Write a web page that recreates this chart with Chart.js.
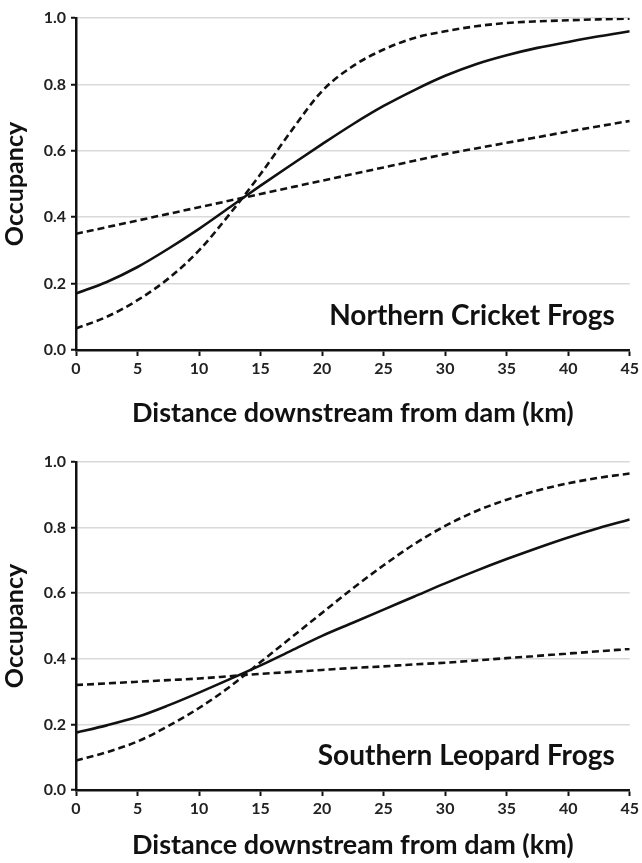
<!DOCTYPE html>
<html>
<head>
<meta charset="utf-8">
<script src="https://cdn.jsdelivr.net/npm/chart.js@4"></script>
<style>
    body { margin: 0; background: #fff; }
    .panel { width: 642px; position: relative; }
    canvas { display: block; }
</style>
</head>
<body>
<div class="panel"><canvas id="northernChart" width="642" height="431"></canvas></div>
<div class="panel"><canvas id="southernChart" width="642" height="432"></canvas></div>
<script>
// distance downstream (km), shared by all curves
const distanceKm = [0, 2.5, 5, 7.5, 10, 12.5, 15, 17.5, 20, 22.5, 25, 27.5, 30, 32.5, 35, 37.5, 40, 42.5, 45];
const yTicks = [0, 0.2, 0.4, 0.6, 0.8, 1.0];

// Northern Cricket Frogs
const northernMean  = [0.17, 0.205, 0.25, 0.305, 0.365, 0.43, 0.495, 0.558, 0.62, 0.68, 0.735, 0.783, 0.826, 0.861, 0.888, 0.91, 0.928, 0.945, 0.96];
const northernUpper = [0.065, 0.10, 0.15, 0.215, 0.30, 0.41, 0.53, 0.66, 0.78, 0.855, 0.905, 0.94, 0.96, 0.975, 0.985, 0.99, 0.993, 0.996, 0.998];
const northernLower = [0.35, 0.37, 0.39, 0.41, 0.43, 0.45, 0.47, 0.49, 0.51, 0.53, 0.55, 0.57, 0.59, 0.607, 0.624, 0.641, 0.658, 0.674, 0.69];

// Southern Leopard Frogs
const southernMean  = [0.175, 0.197, 0.223, 0.258, 0.297, 0.338, 0.38, 0.425, 0.47, 0.51, 0.55, 0.59, 0.63, 0.668, 0.704, 0.738, 0.77, 0.799, 0.825];
const southernUpper = [0.09, 0.115, 0.148, 0.195, 0.25, 0.315, 0.39, 0.465, 0.54, 0.615, 0.685, 0.75, 0.805, 0.85, 0.885, 0.913, 0.935, 0.952, 0.965];
const southernLower = [0.32, 0.325, 0.33, 0.335, 0.34, 0.347, 0.354, 0.36, 0.366, 0.372, 0.377, 0.383, 0.388, 0.395, 0.402, 0.409, 0.416, 0.423, 0.43];

const FONT = 'Lato, "Open Sans", sans-serif';

function toPoints(values) {
    return distanceKm.map((x, i) => ({ x: x, y: values[i] }));
}

function curve(values, dashed) {
    return {
        data: toPoints(values),
        borderColor: '#111',
        borderWidth: 2.6,
        borderDash: dashed ? [7, 4] : [],
        pointRadius: 0,
        fill: false,
        cubicInterpolationMode: 'monotone'
    };
}

// species name in the lower right corner of the plot
const speciesLabel = {
    id: 'speciesLabel',
    afterDraw(chart, args, opts) {
        const ctx = chart.ctx;
        const area = chart.chartArea;
        ctx.save();
        ctx.font = 'bold 28px ' + FONT;
        ctx.fillStyle = '#111';
        ctx.textAlign = 'right';
        ctx.textBaseline = 'middle';
        ctx.fillText(opts.text, area.right - 15, area.bottom - opts.offset);
        ctx.restore();
    }
};

function renderPanel(canvasId, mean, upper, lower, name, pad) {
    const ctx = document.getElementById(canvasId).getContext('2d');

    new Chart(ctx, {
        type: 'line',
        data: {
            datasets: [curve(upper, true), curve(lower, true), curve(mean, false)]
        },
        options: {
            responsive: false,
            animation: false,
            layout: {
                padding: { top: pad.top, right: 10, bottom: pad.bottom, left: 0 }
            },
            scales: {
                x: {
                    type: 'linear',
                    min: 0,
                    max: 45,
                    ticks: {
                        stepSize: 5,
                        color: '#222',
                        padding: 3,
                        font: { size: 16, weight: 'bold', family: FONT }
                    },
                    grid: {
                        drawOnChartArea: false,
                        tickLength: 6,
                        tickColor: '#111',
                        tickWidth: 2
                    },
                    border: { color: '#111', width: 2.5 },
                    title: {
                        display: true,
                        text: 'Distance downstream from dam (km)',
                        color: '#111',
                        padding: { top: 8, bottom: 0 },
                        font: { size: 27, weight: 'bold', family: FONT }
                    },
                    afterFit(scale) {
                        scale.height = pad.xHeight;
                    }
                },
                y: {
                    min: 0,
                    max: 1,
                    afterBuildTicks(scale) {
                        scale.ticks = yTicks.map(v => ({ value: v }));
                    },
                    ticks: {
                        color: '#222',
                        padding: 5,
                        font: { size: 16, weight: 'bold', family: FONT },
                        callback: v => Number(v).toFixed(1)
                    },
                    grid: {
                        color: '#d9d9d9',
                        lineWidth: 1.5,
                        tickLength: 5,
                        tickColor: '#111',
                        tickWidth: 2
                    },
                    border: { color: '#111', width: 2.5 },
                    title: {
                        display: true,
                        text: 'Occupancy',
                        color: '#111',
                        padding: { top: 0, bottom: 0 },
                        font: { size: 25, weight: 'bold', family: FONT }
                    },
                    afterFit(scale) {
                        scale.width = 76;
                    }
                }
            },
            plugins: {
                legend: { display: false },
                tooltip: { enabled: false },
                speciesLabel: { text: name, offset: pad.label }
            }
        },
        plugins: [speciesLabel]
    });
}

renderPanel('northernChart', northernMean, northernUpper, northernLower, 'Northern Cricket Frogs',
    { top: 18, bottom: 2, xHeight: 79, label: 34 });
renderPanel('southernChart', southernMean, southernUpper, southernLower, 'Southern Leopard Frogs',
    { top: 31, bottom: 2, xHeight: 71, label: 34 });
</script>
</body>
</html>
